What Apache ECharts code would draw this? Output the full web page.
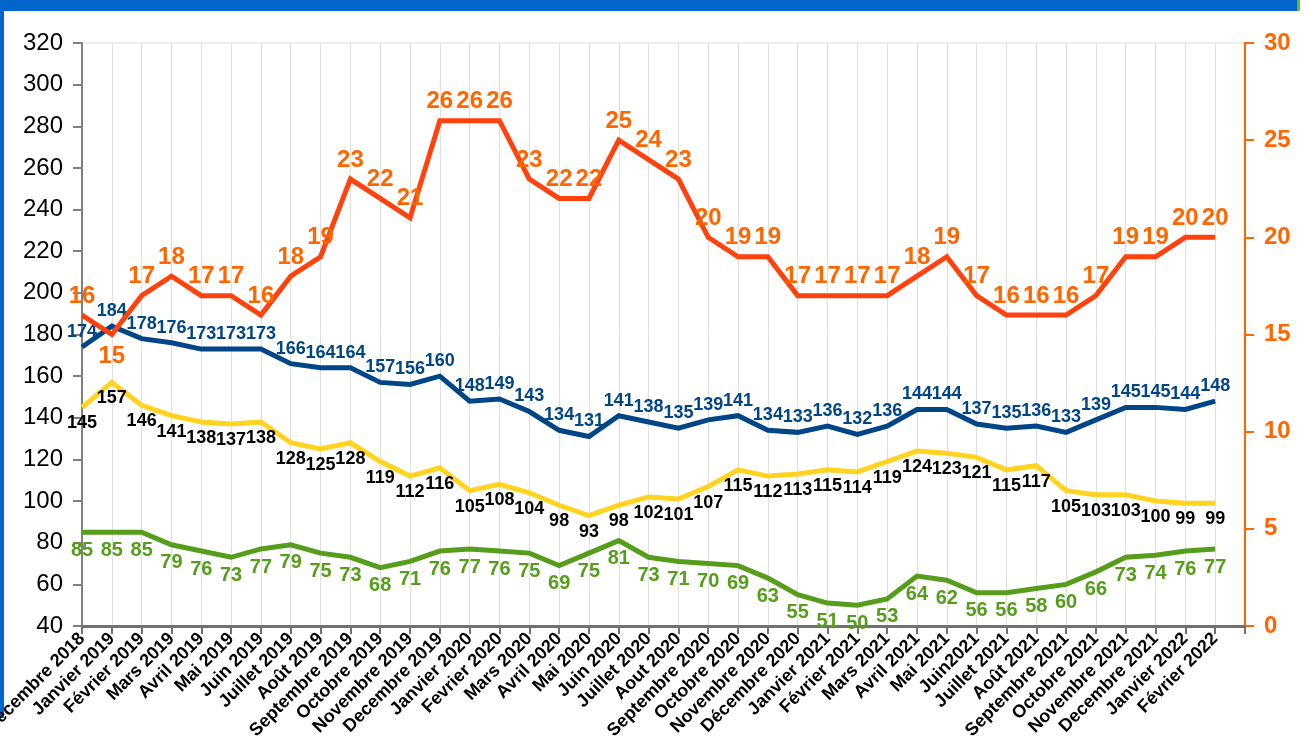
<!DOCTYPE html>
<html><head><meta charset="utf-8">
<script src="https://cdn.jsdelivr.net/npm/echarts@6/dist/echarts.min.js"></script>
<style>html,body{margin:0;padding:0;background:#fff}#c{width:1308px;height:753px}</style>
</head><body><div id="c"></div>
<script>
const categories = ['Décembre 2018','Janvier 2019','Février 2019','Mars 2019','Avril 2019','Mai 2019','Juin 2019','Juillet 2019','Août 2019','Septembre 2019','Octobre 2019','Novembre 2019','Decembre 2019','Janvier 2020','Fevrier 2020','Mars 2020','Avril 2020','Mai 2020','Juin 2020','Juillet 2020','Aout 2020','Septembre 2020','Octobre 2020','Novembre 2020','Décembre 2020','Janvier 2021','Février 2021','Mars 2021','Avril 2021','Mai 2021','Juin2021','Juillet 2021','Août 2021','Septembre 2021','Octobre 2021','Novembre 2021','Decembre 2021','Janvier 2022','Février 2022',''];
const blueValues = [174,184,178,176,173,173,173,166,164,164,157,156,160,148,149,143,134,131,141,138,135,139,141,134,133,136,132,136,144,144,137,135,136,133,139,145,145,144,148];
const yellowValues = [145,157,146,141,138,137,138,128,125,128,119,112,116,105,108,104,98,93,98,102,101,107,115,112,113,115,114,119,124,123,121,115,117,105,103,103,100,99,99];
const greenValues = [85,85,85,79,76,73,77,79,75,73,68,71,76,77,76,75,69,75,81,73,71,70,69,63,55,51,50,53,64,62,56,56,58,60,66,73,74,76,77];
const orangeValues = [16,15,17,18,17,17,16,18,19,23,22,21,26,26,26,23,22,22,25,24,23,20,19,19,17,17,17,17,18,19,17,16,16,16,17,19,19,20,20];

const chart = echarts.init(document.getElementById('c'), null, {renderer:'canvas'});
const font = 'Liberation Sans, Arial, sans-serif';
function lineSeries(name, data, color, labelColor, pos, size, yIdx, dist) {
  return {
    name, type:'line', data, yAxisIndex:yIdx, symbol:'circle', symbolSize:0.1, showSymbol:true,
    lineStyle:{color, width:5, join:'miter'}, itemStyle:{color},
    label:{show:true, position:pos, color:labelColor, fontFamily:font, fontWeight:'bold', fontSize:size, distance:dist},
    labelLayout:{hideOverlap:false},
    emphasis:{disabled:true},
    z: 3
  };
}
const orangeData = orangeValues.map((v,i)=> i===1 ? {value:v, label:{position:'bottom', distance:10}} : v);
chart.setOption({
  animation:false,
  backgroundColor:'#fff',
  graphic:[
    {type:'rect', shape:{x:0,y:0,width:1297,height:11}, style:{fill:'#0066cc'}},
    {type:'rect', shape:{x:1297,y:0,width:3,height:11}, style:{fill:'#66bb22'}},
    {type:'rect', shape:{x:0,y:0,width:4,height:718}, style:{fill:'#0066cc'}}
  ],
  grid:{left:82, right:63, top:43, bottom:127, outerBoundsMode:'none', containLabel:false, show:true, borderColor:'#dddddd', borderWidth:1},
  xAxis:{
    type:'category', data:categories, boundaryGap:false,
    axisLine:{lineStyle:{color:'#6d7278', width:3}},
    axisTick:{show:true, length:8, lineStyle:{color:'#6d7278', width:2}, alignWithLabel:true},
    axisLabel:{rotate:45, interval:0, color:'#000', fontFamily:font, fontWeight:'bold', fontSize:18, margin:10},
    splitLine:{show:true, lineStyle:{color:'#e0e0e0', width:1}}
  },
  yAxis:[
    {type:'value', min:40, max:320, interval:20,
     axisLine:{show:true, lineStyle:{color:'#808080', width:2}},
     axisTick:{show:true, length:9, lineStyle:{color:'#808080', width:2}},
     axisLabel:{color:'#000', fontFamily:font, fontSize:24, margin:19},
     splitLine:{show:false}},
    {type:'value', min:0, max:30, interval:5, position:'right',
     axisLine:{show:true, lineStyle:{color:'#ff6600', width:2}},
     axisTick:{show:true, length:9, lineStyle:{color:'#ff6600', width:2}},
     axisLabel:{color:'#ff6600', fontFamily:font, fontWeight:'bold', fontSize:24, margin:19},
     splitLine:{show:false}}
  ],
  series:[
    lineSeries('green', greenValues, '#579d1c', '#579d1c', 'bottom', 20, 0, 8),
    lineSeries('yellow', yellowValues, '#ffd320', '#000000', 'bottom', 18, 0, 7),
    lineSeries('blue', blueValues, '#004586', '#004586', 'top', 18, 0, 6),
    Object.assign(lineSeries('orange', orangeData, '#ff420e', '#ff6600', 'top', 24, 1, 7), {z:4})
  ]
});
</script></body></html>
